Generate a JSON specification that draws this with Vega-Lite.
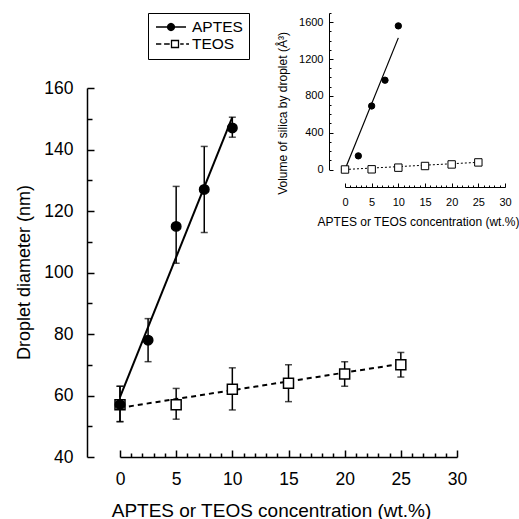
{
  "$schema": "https://vega.github.io/schema/vega-lite/v6.json",
  "width": 432,
  "height": 457,
  "autosize": {"type": "none"},
  "padding": {"left": 87, "top": 0, "right": 0, "bottom": 62},
  "background": "white",
  "config": {
    "font": "Liberation Sans",
    "view": {"stroke": null},
    "axis": {"grid": false, "domainColor": "black", "tickColor": "black", "labelColor": "black", "titleColor": "black", "titleFontWeight": "normal", "labelFont": "Liberation Sans", "titleFont": "Liberation Sans"},
    "legend": {
      "orient": "none", "legendX": 61, "legendY": 13, "title": null,
      "strokeColor": "black", "padding": 6, "symbolSize": 196,
      "labelFontSize": 15.5, "labelFont": "Liberation Sans", "labelColor": "black",
      "labelOffset": 22, "rowPadding": -11,
      "symbolStrokeColor": "black", "symbolStrokeWidth": 1.3
    }
  },
  "datasets": {
    "mainPts": [
      {"series": "APTES", "conc": 0, "d": 57, "lo": 51.5, "hi": 63},
      {"series": "APTES", "conc": 2.5, "d": 78, "lo": 71, "hi": 85},
      {"series": "APTES", "conc": 5, "d": 115, "lo": 103, "hi": 128},
      {"series": "APTES", "conc": 7.5, "d": 127, "lo": 113, "hi": 141},
      {"series": "APTES", "conc": 10, "d": 147, "lo": 144, "hi": 150.5},
      {"series": "TEOS", "conc": 0, "d": 57, "lo": 51.5, "hi": 63},
      {"series": "TEOS", "conc": 5, "d": 57, "lo": 52.3, "hi": 62.3},
      {"series": "TEOS", "conc": 10, "d": 62, "lo": 55.3, "hi": 69},
      {"series": "TEOS", "conc": 15, "d": 64, "lo": 58, "hi": 70},
      {"series": "TEOS", "conc": 20, "d": 67, "lo": 63, "hi": 71},
      {"series": "TEOS", "conc": 25, "d": 70, "lo": 66, "hi": 74}
    ],
    "mainFit": [
      {"series": "APTES", "conc": 0, "d": 59.5},
      {"series": "APTES", "conc": 10, "d": 150.5},
      {"series": "TEOS", "conc": 0, "d": 56},
      {"series": "TEOS", "conc": 25, "d": 70.3}
    ],
    "insetPts": [
      {"series": "APTES", "conc": 0, "v": 0},
      {"series": "APTES", "conc": 2.5, "v": 148},
      {"series": "APTES", "conc": 5, "v": 690},
      {"series": "APTES", "conc": 7.5, "v": 970},
      {"series": "APTES", "conc": 10, "v": 1560},
      {"series": "TEOS", "conc": 0, "v": 0},
      {"series": "TEOS", "conc": 5, "v": 2},
      {"series": "TEOS", "conc": 10, "v": 20},
      {"series": "TEOS", "conc": 15, "v": 38},
      {"series": "TEOS", "conc": 20, "v": 55},
      {"series": "TEOS", "conc": 25, "v": 77}
    ],
    "insetFit": [
      {"series": "APTES", "conc": 0, "v": 0},
      {"series": "APTES", "conc": 10, "v": 1430},
      {"series": "TEOS", "conc": 0, "v": 0},
      {"series": "TEOS", "conc": 25, "v": 78}
    ]
  },
  "layer": [
    {
      "layer": [
        {
          "data": {"name": "mainPts"},
          "mark": {"type": "rule", "color": "black", "strokeWidth": 1.5},
          "encoding": {
            "x": {
              "field": "conc", "type": "quantitative",
              "scale": {"domain": [0, 30], "range": [33, 370], "nice": false, "zero": false},
              "axis": {
                "orient": "bottom",
                "values": [0, 5, 10, 15, 20, 25, 30],
                "tickSize": -7,
                "tickWidth": 1.5, "domainWidth": 1.5,
                "labelFontSize": 17.5, "labelPadding": 20, "labelFlush": false, "labelOverlap": false,
                "title": "APTES or TEOS concentration  (wt.%)", "titleFontSize": 19,
                "titleX": 184, "titleY": 53, "titleBaseline": "middle", "titleAlign": "center"
              }
            },
            "y": {
              "field": "lo", "type": "quantitative",
              "scale": {"domain": [40, 160], "range": [457, 88], "nice": false, "zero": false},
              "axis": {
                "orient": "left",
                "values": [40, 60, 80, 100, 120, 140, 160],
                "tickSize": -7,
                "tickWidth": 1.5, "domainWidth": 1.5,
                "labelFontSize": 17.5, "labelPadding": 21, "labelFlush": false, "labelOverlap": false,
                "title": "Droplet diameter  (nm)", "titleFontSize": 18,
                "titleX": -63, "titleY": 272, "titleBaseline": "middle", "titleAlign": "center", "titleAngle": -90
              }
            },
            "y2": {"field": "hi"}
          }
        },
        {
          "data": {"name": "mainPts"},
          "mark": {"type": "tick", "orient": "horizontal", "color": "black", "size": 7, "thickness": 1.5},
          "encoding": {
            "x": {
              "field": "conc", "type": "quantitative",
              "axis": {
                "orient": "bottom",
                "values": [1,2,3,4,6,7,8,9,11,12,13,14,16,17,18,19,21,22,23,24,26,27,28,29],
                "tickSize": -4, "tickWidth": 1.5,
                "domain": false, "labels": false, "title": null
              }
            },
            "y": {
              "field": "lo", "type": "quantitative",
              "axis": {
                "orient": "left",
                "values": [50, 70, 90, 110, 130, 150],
                "tickSize": -5, "tickWidth": 1.5,
                "domain": false, "labels": false, "title": null
              }
            }
          }
        },
        {
          "data": {"name": "mainPts"},
          "mark": {"type": "tick", "orient": "horizontal", "color": "black", "size": 7, "thickness": 1.5},
          "encoding": {
            "x": {"field": "conc", "type": "quantitative", "axis": null},
            "y": {"field": "hi", "type": "quantitative", "axis": null}
          }
        },
        {
          "data": {"name": "mainFit"},
          "transform": [{"filter": "datum.series === 'APTES'"}],
          "mark": {"type": "line", "color": "black", "strokeWidth": 2},
          "encoding": {
            "x": {"field": "conc", "type": "quantitative", "axis": null},
            "y": {"field": "d", "type": "quantitative", "axis": null}
          }
        },
        {
          "data": {"name": "mainFit"},
          "transform": [{"filter": "datum.series === 'TEOS'"}],
          "mark": {"type": "line", "color": "black", "strokeWidth": 2, "strokeDash": [5, 4]},
          "encoding": {
            "x": {"field": "conc", "type": "quantitative", "axis": null},
            "y": {"field": "d", "type": "quantitative", "axis": null}
          }
        },
        {
          "data": {"name": "mainPts"},
          "transform": [{"filter": "datum.series === 'TEOS'"}],
          "mark": {"type": "point", "shape": "square", "fill": "white", "stroke": "black", "strokeWidth": 1.5, "size": 100, "opacity": 1},
          "encoding": {
            "x": {"field": "conc", "type": "quantitative", "axis": null},
            "y": {"field": "d", "type": "quantitative", "axis": null}
          }
        },
        {
          "data": {"name": "mainPts"},
          "transform": [{"filter": "datum.series === 'APTES'"}],
          "mark": {"type": "point", "shape": "circle", "fill": "black", "stroke": "black", "strokeWidth": 1.5, "size": 90, "opacity": 1},
          "encoding": {
            "x": {"field": "conc", "type": "quantitative", "axis": null},
            "y": {"field": "d", "type": "quantitative", "axis": null}
          }
        },
        {
          "data": {"name": "mainPts"},
          "transform": [{"filter": "datum.conc < 0"}],
          "mark": {"type": "point", "strokeWidth": 1.3, "opacity": 1},
          "encoding": {
            "x": {"field": "conc", "type": "quantitative", "axis": null},
            "y": {"field": "d", "type": "quantitative", "axis": null},
            "shape": {
              "field": "series", "type": "nominal",
              "scale": {"domain": ["APTES", "TEOS"], "range": ["M-0.857,0H3.43M1.786,0L1.719,0.25L1.536,0.433L1.286,0.5L1.036,0.433L0.853,0.25L0.786,0L0.853,-0.25L1.036,-0.433L1.286,-0.5L1.536,-0.433L1.719,-0.25Z", "M-0.857,0H-0.1M0.3,0H1.1M2.6,0H3.1M3.45,0H3.857M1.357,-0.5H2.357V0.5H1.357Z"]},
              "legend": {}
            },
            "fill": {
              "field": "series", "type": "nominal",
              "scale": {"domain": ["APTES", "TEOS"], "range": ["black", "white"]},
              "legend": {}
            },
            "stroke": {
              "field": "series", "type": "nominal",
              "scale": {"domain": ["APTES", "TEOS"], "range": ["black", "black"]},
              "legend": {}
            }
          }
        }
      ],
      "resolve": {"axis": {"x": "independent", "y": "independent"}}
    },
    {
      "layer": [
        {
          "data": {"name": "insetFit"},
          "transform": [{"filter": "datum.series === 'APTES'"}],
          "mark": {"type": "line", "color": "black", "strokeWidth": 1.2},
          "encoding": {
            "x": {
              "field": "conc", "type": "quantitative",
              "scale": {"domain": [0, 30], "range": [258, 418], "nice": false, "zero": false},
              "axis": {
                "orient": "bottom", "offset": -270,
                "values": [0, 5, 10, 15, 20, 25, 30],
                "tickSize": -4, "tickWidth": 1, "domainWidth": 1,
                "labelFontSize": 11, "labelPadding": 13, "labelFlush": false, "labelOverlap": false,
                "title": "APTES or TEOS concentration  (wt.%)", "titleFontSize": 12,
                "titleX": 331, "titleY": 34, "titleBaseline": "middle", "titleAlign": "center"
              }
            },
            "y": {
              "field": "v", "type": "quantitative",
              "scale": {"domain": [0, 1700], "range": [169.5, 13], "nice": false, "zero": false},
              "axis": {
                "orient": "left", "offset": -242,
                "values": [0, 400, 800, 1200, 1600], "format": "d",
                "tickSize": -4, "tickWidth": 1, "domainWidth": 1,
                "labelFontSize": 11, "labelPadding": 10, "labelFlush": false, "labelOverlap": false,
                "title": "Volume of silica by droplet  (Å³)", "titleFontSize": 12,
                "titleX": -47, "titleY": 113, "titleBaseline": "middle", "titleAlign": "center", "titleAngle": -90
              }
            }
          }
        },
        {
          "data": {"name": "insetFit"},
          "transform": [{"filter": "datum.series === 'TEOS'"}],
          "mark": {"type": "line", "color": "black", "strokeWidth": 1, "strokeDash": [2, 2]},
          "encoding": {
            "x": {
              "field": "conc", "type": "quantitative",
              "axis": {
                "orient": "bottom", "offset": -270,
                "values": [1,2,3,4,6,7,8,9,11,12,13,14,16,17,18,19,21,22,23,24,26,27,28,29],
                "tickSize": -2, "tickWidth": 1,
                "domain": false, "labels": false, "title": null
              }
            },
            "y": {
              "field": "v", "type": "quantitative",
              "axis": {
                "orient": "left", "offset": -242,
                "values": [100,200,300,500,600,700,900,1000,1100,1300,1400,1500,1700],
                "tickSize": -2, "tickWidth": 1,
                "domain": false, "labels": false, "title": null
              }
            }
          }
        },
        {
          "data": {"name": "insetPts"},
          "transform": [{"filter": "datum.series === 'APTES'"}],
          "mark": {"type": "point", "shape": "circle", "fill": "black", "stroke": "black", "strokeWidth": 1, "size": 40, "opacity": 1},
          "encoding": {
            "x": {"field": "conc", "type": "quantitative", "axis": null},
            "y": {"field": "v", "type": "quantitative", "axis": null}
          }
        },
        {
          "data": {"name": "insetPts"},
          "transform": [{"filter": "datum.series === 'TEOS'"}],
          "mark": {"type": "point", "shape": "square", "fill": "white", "stroke": "black", "strokeWidth": 1, "size": 55, "opacity": 1},
          "encoding": {
            "x": {"field": "conc", "type": "quantitative", "axis": null},
            "y": {"field": "v", "type": "quantitative", "axis": null}
          }
        }
      ],
      "resolve": {"axis": {"x": "independent", "y": "independent"}}
    }
  ],
  "resolve": {"scale": {"x": "independent", "y": "independent"}, "axis": {"x": "independent", "y": "independent"}}
}
